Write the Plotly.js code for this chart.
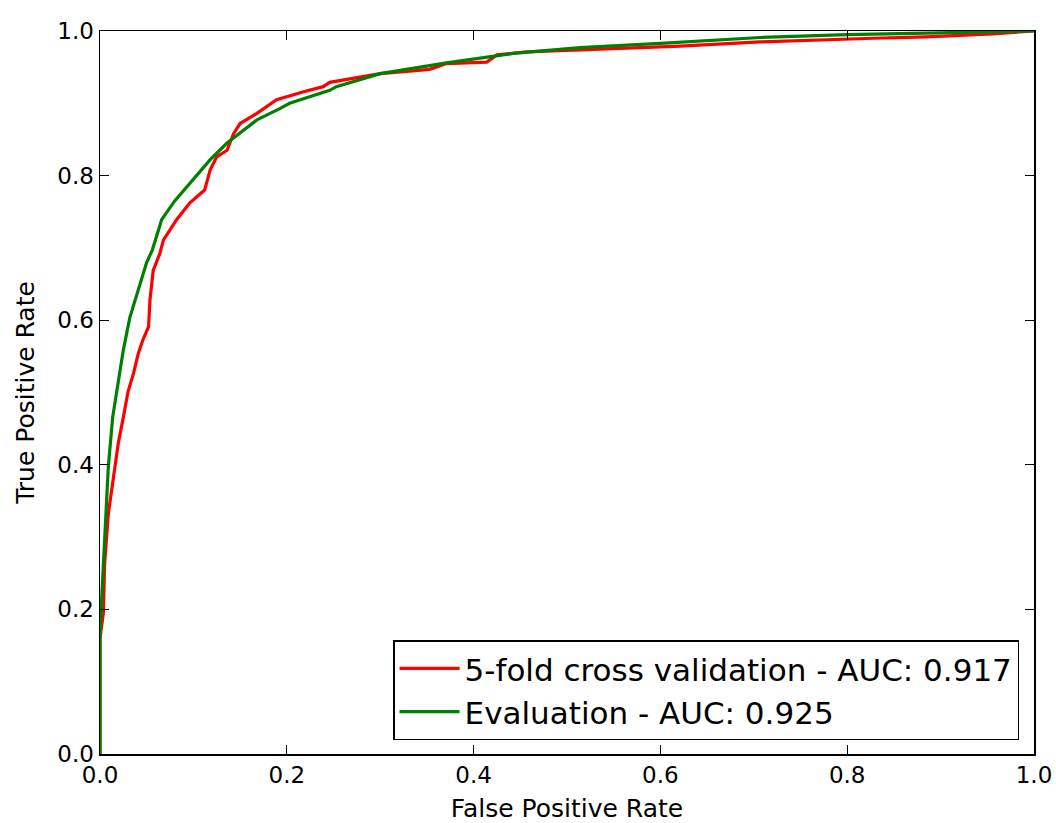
<!DOCTYPE html>
<html>
<head>
<meta charset="utf-8">
<script src="https://cdn.plot.ly/plotly-3.0.1.min.js"></script>
<style>html,body{margin:0;padding:0;background:#fff;}#chart{width:1056px;height:823px;}</style>
</head>
<body>
<div id="chart"></div>
<script>
const cvName = "5-fold cross validation - AUC: 0.917";
const evalName = "Evaluation - AUC: 0.925";

const fprCV = [0,0,0.0036,0.005,0.009,0.0107,0.014,0.016,0.0196,0.025,0.030,0.036,0.041,0.046,0.052,0.0535,0.057,0.064,0.068,0.082,0.096,0.112,0.118,0.125,0.136,0.143,0.150,0.168,0.189,0.218,0.239,0.246,0.300,0.353,0.371,0.414,0.425,0.457,0.550,0.621,0.707,0.80,0.828,0.885,0.956,1];
const tprCV = [0,0.16,0.195,0.264,0.333,0.351,0.379,0.397,0.430,0.466,0.501,0.527,0.554,0.573,0.591,0.628,0.669,0.692,0.711,0.739,0.762,0.780,0.808,0.826,0.835,0.858,0.872,0.886,0.905,0.916,0.923,0.929,0.941,0.947,0.955,0.957,0.967,0.971,0.976,0.979,0.985,0.988,0.990,0.992,0.996,1];

const fprEval = [0,0,0.002,0.0036,0.0064,0.0089,0.0136,0.0196,0.025,0.032,0.043,0.050,0.056,0.066,0.080,0.093,0.118,0.136,0.168,0.193,0.203,0.246,0.253,0.300,0.371,0.442,0.514,0.600,0.707,0.80,0.885,1];
const tprEval = [0,0.16,0.22,0.26,0.351,0.397,0.466,0.513,0.559,0.604,0.651,0.680,0.697,0.739,0.765,0.785,0.822,0.845,0.877,0.893,0.900,0.918,0.923,0.941,0.956,0.969,0.977,0.983,0.991,0.995,0.997,1];

const tickVals = [0,0.2,0.4,0.6,0.8,1.0];
const tickText = ["0.0","0.2","0.4","0.6","0.8","1.0"];

const font = "DejaVu Sans, sans-serif";

const traces = [
  {x: fprCV, y: tprCV, mode: "lines", name: cvName, legendgroup: "a",
   line: {color: "#ff0000", width: 3.2}},
  {x: fprEval, y: tprEval, mode: "lines", name: evalName, legendgroup: "b",
   line: {color: "#008000", width: 3.2}}
];

const axisCommon = {
  range: [0, 1], tickvals: tickVals, ticktext: tickText,
  ticks: "inside", ticklen: 9, tickwidth: 1, tickcolor: "#000",
  showline: true, linecolor: "#000", linewidth: 1.5, mirror: "ticks",
  showgrid: false, zeroline: false,
  tickfont: {family: font, size: 23, color: "#000"}
};

const layout = {
  width: 1056, height: 823,
  margin: {l: 100, r: 22, t: 31, b: 69},
  paper_bgcolor: "#fff", plot_bgcolor: "#fff",
  font: {family: font, color: "#000"},
  xaxis: Object.assign({}, axisCommon, {
    title: {text: "False Positive Rate", font: {family: font, size: 25, color: "#000"}, standoff: 13}
  }),
  yaxis: Object.assign({}, axisCommon, {
    title: {text: "True Positive Rate", font: {family: font, size: 25, color: "#000"}, standoff: 15}
  }),
  showlegend: true,
  legend: {
    x: 0.984, y: 0.019, xanchor: "right", yanchor: "bottom",
    bordercolor: "#000", borderwidth: 1.5, bgcolor: "#fff",
    font: {family: font, size: 31, color: "#000"},
    tracegroupgap: 0, itemwidth: 60
  }
};

Plotly.newPlot("chart", traces, layout, {displayModeBar: false, staticPlot: true});
</script>
</body>
</html>
